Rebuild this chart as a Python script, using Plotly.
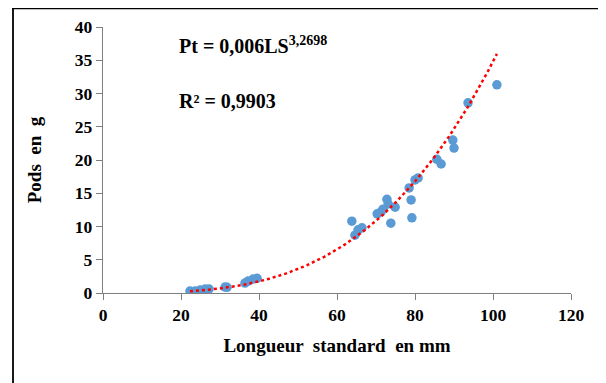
import numpy as np
import plotly.graph_objects as go

# Data
longueur_mm = [22.3, 23.6, 24.9, 26.2, 27.2, 31.3, 31.8, 36.4, 37.2, 38.5, 39.5,
               63.8, 64.6, 65.4, 66.4, 70.3, 71.3, 71.8, 72.8, 73.1, 74.9, 73.8,
               78.5, 79.0, 79.2, 80.0, 80.8, 85.6, 86.7, 89.7, 90.0, 93.6, 101.0]
poids_g = [0.3, 0.3, 0.45, 0.6, 0.6, 0.9, 0.85, 1.5, 1.8, 2.1, 2.2,
           10.8, 8.7, 9.5, 9.8, 11.9, 12.2, 12.6, 14.1, 13.4, 12.9, 10.5,
           15.8, 14.0, 11.3, 17.0, 17.3, 20.1, 19.4, 23.0, 21.8, 28.6, 31.3]
x_ticks = [0, 20, 40, 60, 80, 100, 120]
y_ticks = [0, 5, 10, 15, 20, 25, 30, 35, 40]
exposant = 3.2698   # exponent shown in the chart's equation

# Power trendline: exponent from the equation; coefficient = mean of the
# log-space and linear-space least-squares estimates
xs = np.array(longueur_mm)
ys = np.array(poids_g)
basis = xs ** exposant
coef_lin = float(np.sum(ys * basis) / np.sum(basis * basis))
coef_log = float(np.exp(np.mean(np.log(ys) - exposant * np.log(xs))))
coef = 0.5 * (coef_lin + coef_log)
tx = np.linspace(xs.min(), xs.max(), 200)
ty = coef * tx ** exposant

FONT = "Liberation Serif"
OFF = 8  # page body margin offset

fig = go.Figure()
fig.add_trace(go.Scatter(x=longueur_mm, y=poids_g, mode="markers",
                         marker=dict(color="#5B9BD5", size=9.5, line=dict(width=0)),
                         showlegend=False, hoverinfo="x+y"))
fig.add_trace(go.Scatter(x=tx, y=ty, mode="lines",
                         line=dict(color="#FF0000", width=2.5, dash="dot"),
                         showlegend=False, hoverinfo="skip"))

axis_common = dict(showline=True, linecolor="#7F7F7F", linewidth=1.3,
                   ticks="outside", ticklen=6, tickcolor="#7F7F7F", tickwidth=1.3,
                   showgrid=False, zeroline=False,
                   tickfont=dict(family=FONT, size=17.5, color="#000000"))

fig.update_xaxes(range=[0, 120], tickvals=x_ticks,
                 ticktext=[f"<b>{v}</b>" for v in x_ticks], **axis_common,
                 title=dict(text="<b>Longueur  standard  en mm</b>",
                            font=dict(family=FONT, size=19, color="#000000"),
                            standoff=14))
fig.update_yaxes(range=[0, 40], tickvals=y_ticks,
                 ticktext=[f"<b>{v}</b>" for v in y_ticks], **axis_common,
                 title=dict(text="<b>Pods  en  g</b>",
                            font=dict(family=FONT, size=19, color="#000000"),
                            standoff=28))

fig.add_annotation(x=19, y=37.3, xref="x", yref="y", xanchor="left", yanchor="middle",
                   text="<b>Pt = 0,006LS<sup>3,2698</sup></b>", showarrow=False,
                   font=dict(family=FONT, size=20, color="#000000"))
fig.add_annotation(x=19, y=28.9, xref="x", yref="y", xanchor="left", yanchor="middle",
                   text="<b>R² = 0,9903</b>", showarrow=False,
                   font=dict(family=FONT, size=20, color="#000000"))

# Plot area in page pixels of the reference, shifted for the page margin
FW, FH = 606 - OFF, 383 - OFF
L, T = 103 - OFF, 27 - OFF
W, H = 468, 266
def px(xp):
    return (xp - OFF - L) / W
def py(yp):
    return (T + H - (yp - OFF)) / H

# Outer frame (top, left, right)
fig.add_shape(type="line", xref="paper", yref="paper", x0=px(12), x1=px(605), y0=py(8), y1=py(8),
              line=dict(color="#000000", width=2.5))
fig.add_shape(type="line", xref="paper", yref="paper", x0=px(13), x1=px(13), y0=py(8), y1=py(395),
              line=dict(color="#000000", width=1.8))
fig.add_shape(type="line", xref="paper", yref="paper", x0=px(604), x1=px(604), y0=py(8), y1=py(395),
              line=dict(color="#000000", width=2.5))

fig.update_layout(width=FW, height=FH,
                  margin=dict(l=L, r=FW - L - W, t=T, b=FH - T - H, autoexpand=False),
                  plot_bgcolor="#FFFFFF", paper_bgcolor="#FFFFFF")

fig.write_html("out.html")
